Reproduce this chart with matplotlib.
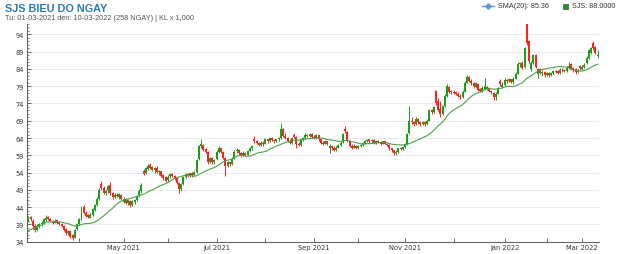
import matplotlib
matplotlib.use('Agg')
import matplotlib.pyplot as plt
from matplotlib.lines import Line2D
from matplotlib.ticker import MultipleLocator
import numpy as np
import pandas as pd

# trading calendar (HOSE holidays removed)
holidays = ['2021-04-21', '2021-04-30', '2021-05-03', '2021-09-02', '2021-09-03',
            '2022-01-03', '2022-01-31', '2022-02-01', '2022-02-02', '2022-02-03',
            '2022-02-04']
dates = pd.bdate_range('2021-03-01', '2022-03-10')
dates = dates[~dates.isin(pd.to_datetime(holidays))]

# closes of the 19 sessions before the window (for SMA warm-up)
warmup_close = [32.5, 33.0, 33.0, 33.5, 33.0, 33.5, 33.0, 34.0, 38.0, 39.0,
                39.5, 40.0, 40.0, 39.5, 40.0, 40.5, 40.0, 39.5, 40.0]

open_ = [
    40.2, 41.2, 40.0, 38.6, 37.5, 38.4, 39.0, 39.4, 40.3, 41.2, 40.5, 39.8, 39.5, 40.2, 39.6, 39.0, 38.6, 37.6, 36.4, 37.2, 35.8, 35.2, 37.6,
    39.0, 40.4, 44.0, 42.4, 41.8, 41.0, 41.8, 43.3, 44.5, 46.3, 50.8, 49.6, 48.2, 49.0, 50.3, 48.0, 47.0, 47.6, 47.0, 47.6,
    45.6, 46.4, 45.2, 45.8, 44.6, 45.6, 46.2, 47.4, 48.6, 54.5, 53.8, 55.0, 56.2, 55.6, 54.8, 55.4, 54.2, 54.4, 53.2, 52.6,
    51.8, 53.0, 53.6, 53.0, 52.4, 51.0, 49.2, 50.6, 52.8, 53.6, 53.2, 53.8, 53.2, 54.2, 57.8, 61.6, 62.0, 60.8, 60.0, 57.0, 58.2, 57.0,
    57.8, 60.0, 61.0, 60.0, 58.2, 56.0, 57.0, 56.4, 58.0, 60.2, 60.6, 59.6, 59.0, 59.8, 59.2, 60.2, 61.0, 63.8, 63.0, 62.6, 62.0, 62.6,
    62.4, 63.6, 63.0, 64.0, 63.4, 63.0, 63.6, 64.0, 66.6, 64.6, 64.0, 63.2, 62.6, 65.0, 64.4, 62.4, 62.0, 63.6, 64.0, 65.0, 64.6, 65.2,
    64.4, 64.0, 64.8, 63.6, 62.6, 62.4, 63.0, 61.0, 61.6, 61.0, 60.4, 61.2, 62.0, 62.8, 66.6, 65.8, 63.2, 61.8, 61.2, 61.8,
    61.2, 61.6, 62.0, 62.6, 63.0, 63.6, 63.0, 63.4, 62.6, 63.2, 62.8, 62.4, 63.0, 62.4, 62.0, 61.0, 60.4, 59.6, 60.0, 61.0, 60.8,
    61.4, 62.2, 65.4, 69.0, 68.6, 68.0, 69.6, 68.6, 68.0, 68.6, 68.0, 69.0, 72.0, 71.4, 77.6, 74.6, 72.4, 71.0, 73.2, 76.2, 78.8, 77.6,
    77.4, 77.2, 76.8, 76.2, 75.8, 77.4, 80.0, 81.8, 80.6, 79.8, 78.8, 79.6, 78.2, 77.6, 78.0, 78.8, 78.2, 77.6, 77.0, 75.8, 76.8, 80.6, 78.8,
    79.4, 80.8, 80.4, 81.0, 80.2, 81.2, 82.6, 85.4, 85.8, 84.6, 97.0, 92.0, 84.0, 85.8, 88.0, 82.6, 84.0, 82.8, 83.2,
    82.2, 82.8, 82.2, 82.8, 83.4, 83.4, 82.8, 83.8, 83.6, 83.4, 84.4, 85.4, 84.4, 84.0, 83.0, 84.8,
    84.0, 84.6, 85.6, 87.2, 88.6, 91.6, 90.2, 87.6,
]
high = [
    41.3, 41.5, 40.5, 39.0, 39.0, 39.5, 40.0, 41.0, 41.6, 41.5, 40.8, 40.3, 40.5, 40.4, 39.9, 39.3, 38.8, 38.0, 37.5, 37.4, 36.2, 37.8, 39.5,
    40.8, 44.3, 44.5, 42.8, 42.0, 42.2, 43.8, 45.0, 46.8, 49.5, 51.5, 50.0, 49.2, 50.5, 51.2, 48.5, 48.0, 48.2, 48.2, 47.8,
    46.8, 46.6, 46.4, 46.0, 46.2, 46.5, 47.5, 49.2, 51.0, 55.0, 55.6, 56.6, 56.8, 56.0, 55.6, 55.8, 54.8, 54.6, 53.6, 53.0,
    53.2, 54.0, 53.8, 53.4, 52.6, 51.4, 51.0, 53.0, 54.0, 54.0, 54.0, 54.2, 54.6, 58.0, 62.0, 63.8, 62.4, 61.2, 60.2, 58.6, 58.4, 58.0,
    60.4, 61.6, 61.2, 60.2, 58.6, 57.4, 57.2, 58.4, 60.4, 61.0, 60.8, 60.0, 60.2, 60.0, 60.6, 61.4, 62.0, 64.6, 63.4, 62.8, 63.0, 63.0,
    64.0, 63.8, 64.4, 64.2, 63.6, 63.8, 64.4, 68.4, 66.8, 65.4, 64.2, 63.6, 64.4, 65.4, 64.6, 62.8, 63.8, 64.4, 65.6, 65.2, 65.6, 65.4,
    64.8, 65.2, 65.0, 63.8, 63.0, 63.4, 63.2, 62.2, 62.0, 61.8, 61.6, 62.4, 63.0, 65.6, 67.6, 66.0, 63.4, 62.4, 62.2, 62.0,
    62.0, 62.4, 62.8, 63.4, 63.8, 63.8, 63.8, 63.6, 63.4, 63.4, 63.0, 63.2, 63.2, 62.6, 62.2, 61.2, 60.6, 60.4, 61.2, 61.4, 61.8,
    62.6, 65.6, 73.4, 70.2, 69.0, 70.0, 69.8, 68.8, 69.0, 68.8, 69.4, 72.4, 72.4, 73.4, 78.0, 75.6, 74.6, 73.6, 76.8, 79.6, 79.2, 78.0,
    77.8, 77.6, 77.2, 76.6, 77.8, 80.4, 82.2, 82.0, 81.0, 80.2, 80.2, 80.0, 78.6, 79.0, 81.4, 79.2, 78.8, 77.8, 77.4, 77.2, 78.8, 81.2, 80.2,
    81.4, 81.2, 81.4, 81.2, 81.6, 83.0, 86.0, 86.0, 86.2, 90.4, 97.6, 92.4, 86.4, 88.4, 88.2, 84.4, 84.2, 83.6, 83.4,
    83.2, 83.0, 83.2, 83.8, 83.6, 83.6, 84.2, 84.4, 84.0, 84.8, 86.0, 85.8, 84.6, 84.2, 84.0, 85.2,
    85.0, 85.6, 87.6, 89.8, 90.4, 92.0, 90.6, 89.6,
]
low = [
    39.8, 40.0, 37.8, 36.8, 37.2, 38.0, 38.6, 39.2, 40.0, 40.2, 39.6, 39.2, 39.3, 39.2, 38.7, 38.2, 37.2, 36.0, 36.0, 35.2, 34.5, 35.0, 37.4,
    38.8, 40.2, 42.0, 41.2, 40.8, 40.8, 41.5, 43.0, 44.2, 46.0, 49.0, 47.8, 47.5, 48.0, 47.5, 46.5, 46.6, 46.8, 46.5, 46.0,
    45.2, 44.8, 44.6, 44.0, 44.2, 44.8, 45.8, 47.0, 48.2, 53.2, 53.5, 54.8, 55.0, 54.4, 54.0, 53.8, 53.2, 52.6, 52.0, 51.2,
    51.4, 52.4, 52.6, 52.0, 50.6, 48.2, 48.8, 50.4, 52.5, 52.8, 52.8, 52.8, 53.0, 54.0, 57.6, 61.2, 60.2, 59.6, 56.6, 56.8, 56.6, 56.6,
    57.6, 59.6, 59.6, 57.8, 53.0, 55.6, 55.8, 56.2, 57.8, 59.8, 59.2, 58.6, 58.8, 58.8, 59.0, 60.0, 60.6, 62.6, 62.2, 61.6, 61.8, 61.8,
    62.2, 62.6, 62.8, 63.0, 62.6, 62.8, 63.2, 63.8, 64.2, 63.6, 62.8, 62.2, 62.4, 64.0, 61.0, 61.6, 61.8, 63.2, 63.8, 64.2, 64.4, 64.0,
    63.6, 63.8, 63.2, 62.2, 62.0, 62.2, 62.0, 59.6, 60.6, 60.2, 60.2, 61.0, 61.8, 62.6, 65.4, 62.8, 61.4, 60.8, 61.0, 60.8,
    60.8, 61.4, 61.8, 62.4, 62.8, 62.6, 62.8, 62.2, 62.4, 62.6, 62.0, 62.2, 62.2, 61.6, 60.6, 60.0, 59.2, 59.2, 59.8, 60.4, 60.6,
    61.2, 62.0, 65.2, 68.0, 67.4, 67.8, 68.2, 67.6, 67.8, 67.6, 67.8, 68.8, 71.0, 71.2, 73.6, 71.8, 70.0, 70.6, 73.0, 76.0, 77.0, 76.8,
    76.6, 76.4, 75.8, 75.4, 75.6, 77.2, 79.8, 80.2, 79.4, 78.6, 78.6, 77.6, 77.2, 77.4, 77.8, 77.8, 77.4, 76.8, 75.0, 75.0, 76.6, 79.2, 78.6,
    79.2, 80.0, 80.2, 79.8, 79.6, 81.0, 82.4, 84.6, 84.0, 84.4, 90.8, 85.8, 83.4, 85.4, 84.2, 81.4, 82.4, 82.0, 81.8,
    82.0, 81.8, 82.0, 82.6, 82.8, 82.6, 82.6, 83.2, 83.0, 83.2, 84.2, 83.6, 83.2, 82.4, 82.8, 83.6,
    83.6, 84.2, 85.4, 86.8, 88.4, 89.6, 88.2, 87.2,
]
close = [
    40.8, 40.5, 38.5, 37.5, 38.6, 39.0, 39.5, 40.5, 41.0, 40.5, 40.0, 39.5, 40.0, 39.5, 39.0, 38.5, 37.5, 36.5, 37.0, 35.5, 35.0, 37.5, 39.0,
    40.5, 44.0, 42.3, 41.5, 41.2, 41.8, 43.5, 44.5, 46.5, 49.0, 49.5, 48.2, 48.8, 50.2, 48.0, 47.0, 47.6, 47.2, 47.8, 46.4,
    46.4, 45.2, 46.0, 44.6, 45.8, 46.2, 47.2, 48.8, 50.5, 53.6, 55.2, 56.0, 55.4, 54.8, 55.2, 54.2, 54.4, 53.0, 52.4, 51.6,
    52.8, 53.6, 53.0, 52.4, 51.0, 49.2, 50.6, 52.8, 53.6, 53.2, 53.8, 53.2, 54.2, 57.6, 61.6, 62.2, 60.6, 60.0, 57.0, 58.2, 57.0, 57.6,
    60.0, 61.0, 60.0, 58.2, 56.0, 57.0, 56.4, 58.0, 60.0, 60.6, 59.6, 59.0, 59.8, 59.2, 60.2, 61.0, 61.6, 63.0, 62.6, 62.0, 62.6, 62.2,
    63.6, 63.0, 64.0, 63.4, 63.0, 63.6, 64.0, 66.6, 64.6, 64.0, 63.2, 62.6, 64.0, 64.4, 62.4, 62.0, 63.6, 64.0, 65.0, 64.6, 65.2, 64.4,
    64.0, 64.8, 63.6, 62.6, 62.4, 63.0, 62.4, 61.6, 61.2, 60.6, 61.2, 62.0, 62.6, 65.2, 66.0, 63.2, 61.8, 61.2, 61.8, 61.2,
    61.6, 62.0, 62.6, 63.0, 63.4, 63.0, 63.4, 62.6, 63.0, 62.8, 62.4, 63.0, 62.4, 62.0, 61.0, 60.4, 59.6, 60.0, 61.0, 60.8, 61.4,
    62.2, 65.2, 69.0, 68.6, 68.0, 69.6, 68.6, 68.0, 68.6, 68.0, 69.0, 72.0, 71.4, 73.0, 74.0, 72.2, 71.0, 73.2, 76.2, 79.0, 77.4, 77.2,
    77.0, 76.8, 76.2, 75.8, 77.4, 80.0, 81.6, 80.6, 79.8, 79.0, 79.8, 78.0, 77.6, 78.6, 79.0, 78.2, 77.6, 77.2, 76.0, 76.8, 78.4, 79.6, 79.4,
    80.8, 80.4, 81.0, 80.2, 81.2, 82.6, 85.4, 85.6, 84.4, 90.0, 91.4, 86.4, 85.8, 88.0, 84.6, 84.0, 82.8, 83.2, 82.2,
    82.8, 82.2, 82.8, 83.4, 83.0, 82.8, 83.8, 83.6, 83.4, 84.4, 84.8, 84.0, 83.6, 83.0, 83.6, 84.2,
    84.6, 85.2, 87.2, 89.4, 90.0, 90.0, 88.6, 88.0,
]

UP = '#18a018'
DOWN = '#ff2020'
SMA_COL = '#4e9e4e'
TITLE_COL = '#2a7ab8'

o = np.array(open_)
h = np.array(high)
l = np.array(low)
c = np.array(close)
x = np.arange(len(c))

sma = pd.Series(warmup_close + close).rolling(20).mean().to_numpy()[len(warmup_close):]

fig = plt.figure(figsize=(6.3, 2.55), dpi=100)
fig.patch.set_facecolor('white')
ax = fig.add_axes([27 / 630, 12.3 / 255, 572 / 630, 217.7 / 255])

colors = np.where(c >= o, UP, DOWN)
ax.vlines(x, l, h, colors=colors, linewidth=0.7, zorder=2)
body = np.maximum(np.abs(c - o), 0.2)
ax.bar(x, body, bottom=np.minimum(o, c), width=0.9, color=colors,
       edgecolor='none', zorder=3)
ax.plot(x, sma, color=SMA_COL, linewidth=0.8, zorder=4)

ax.set_xlim(-0.6, len(c) - 0.4)
ax.set_ylim(34, 97)

# y axis
ax.set_yticks(np.arange(34, 95, 5))
ax.yaxis.set_minor_locator(MultipleLocator(1))
ax.yaxis.grid(True, color='#e8e8e8', linewidth=0.6)
ax.set_axisbelow(True)

# x axis: a tick at each month start, label every other month
month_start = [i for i in range(1, len(dates)) if dates[i].month != dates[i - 1].month]
ax.set_xticks(month_start)
ax.set_xticklabels([dates[i].strftime('%b %Y') if dates[i].month % 2 == 1 else ''
                    for i in month_start])

ax.tick_params(axis='both', which='major', direction='in', length=3, width=0.6,
               color='#555555', labelsize=4.8, labelcolor='#333333', pad=2)
ax.tick_params(axis='y', which='minor', direction='in', length=1.5, width=0.5,
               color='#555555')
for side in ['top', 'right']:
    ax.spines[side].set_visible(False)
for side in ['left', 'bottom']:
    ax.spines[side].set_color('#666666')
    ax.spines[side].set_linewidth(0.8)

# header
fig.text(5 / 630, 1 - 4 / 255, 'SJS BIEU DO NGAY', fontfamily='Liberation Sans',
         fontweight='bold', fontsize=7.8, color=TITLE_COL, ha='left', va='top')
fig.text(5 / 630, 1 - 14.5 / 255,
         'Tu: 01-03-2021 den: 10-03-2022 (258 NGAY) | KL x 1,000',
         fontfamily='Liberation Sans', fontsize=5.3, color='#555555',
         ha='left', va='top')

# legend
ly = 1 - 6.5 / 255
fig.add_artist(Line2D([482 / 630, 494 / 630], [ly, ly], color='#5b9bd5',
                      linewidth=1.0, transform=fig.transFigure))
fig.add_artist(Line2D([488 / 630], [ly], color='#5b9bd5', marker='D',
                      markersize=2.8, linestyle='none', transform=fig.transFigure))
fig.text(498 / 630, ly, f'SMA(20): {sma[-1]:.2f}', fontfamily='Liberation Sans',
         fontsize=5.2, color='#333333', ha='left', va='center')
fig.add_artist(Line2D([564.5 / 630], [ly], color='#1a9a1a', marker='s',
                      markersize=3.6, markeredgecolor='#333333',
                      markeredgewidth=0.4, linestyle='none',
                      transform=fig.transFigure))
fig.text(572 / 630, ly, f'SJS: {c[-1]:.4f}', fontfamily='Liberation Sans',
         fontsize=5.2, color='#333333', ha='left', va='center')

fig.savefig('out.png', dpi=100, facecolor='white')
